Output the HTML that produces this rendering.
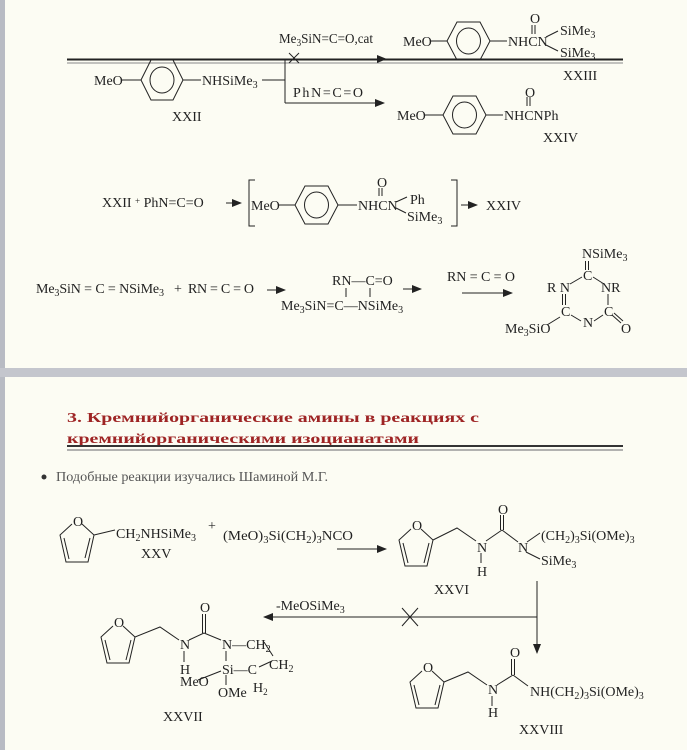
<!DOCTYPE html>
<html><head><meta charset="utf-8"><style>
html,body{margin:0;padding:0;width:687px;height:750px;overflow:hidden;background:#fcfcf3}
svg{display:block}
text{font-family:"Liberation Serif",serif;font-size:14px;fill:#222}
</style></head><body>
<svg width="687" height="750" viewBox="0 0 687 750" xmlns="http://www.w3.org/2000/svg">
<defs>
<marker id="ah" markerWidth="10" markerHeight="8" refX="9" refY="4" orient="auto" markerUnits="userSpaceOnUse">
<path d="M0,0 L10,4 L0,8 Z" fill="#222"/></marker>
</defs>
<rect x="0" y="0" width="687" height="750" fill="#fcfcf3"/>
<rect x="0" y="0" width="5" height="750" fill="#b8bbc3"/>
<rect x="0" y="368" width="687" height="9" fill="#c4c6cd"/>

<g stroke="#222" stroke-width="1" fill="none">
<line x1="67" y1="59.5" x2="623" y2="59.5" stroke-width="2"/>
<line x1="67" y1="63" x2="623" y2="63" stroke="#888"/>

<polygon points="141,80 151,60 173,60 183,80 173,100 151,100"/>
<ellipse cx="162" cy="80" rx="12" ry="13"/>
<line x1="121" y1="80" x2="141" y2="80"/><line x1="183" y1="80" x2="201" y2="80"/>
<line x1="262" y1="80" x2="285" y2="80"/>
<line x1="285" y1="59" x2="285" y2="103"/>
<line x1="285" y1="59" x2="386" y2="59" marker-end="url(#ah)"/>
<line x1="285" y1="103" x2="384" y2="103" marker-end="url(#ah)"/>
<line x1="289" y1="53" x2="299" y2="63"/><line x1="299" y1="53" x2="289" y2="63"/>

<polygon points="447,41 457,22 480,22 490,41 480,60 457,60"/>
<ellipse cx="468.5" cy="41" rx="12" ry="13"/>
<line x1="430" y1="41" x2="447" y2="41"/><line x1="490" y1="41" x2="507" y2="41"/>
<line x1="532" y1="25" x2="532" y2="34"/><line x1="535" y1="25" x2="535" y2="34"/>
<line x1="546" y1="37" x2="558" y2="31"/><line x1="546" y1="45" x2="558" y2="51"/>

<polygon points="443,115 453,96 476,96 486,115 476,134 453,134"/>
<ellipse cx="464.5" cy="115" rx="12" ry="13"/>
<line x1="425" y1="115" x2="443" y2="115"/><line x1="486" y1="115" x2="503" y2="115"/>
<line x1="527" y1="97" x2="527" y2="106"/><line x1="530" y1="97" x2="530" y2="106"/>

<line x1="226" y1="203" x2="241" y2="203" marker-end="url(#ah)"/>
<polyline points="255,180 249,180 249,226 255,226"/>
<polyline points="451,180 457,180 457,226 451,226"/>
<polygon points="295,205 305,186 328,186 338,205 328,224 305,224"/>
<ellipse cx="316.5" cy="205" rx="12" ry="13"/>
<line x1="278" y1="205" x2="295" y2="205"/><line x1="338" y1="205" x2="357" y2="205"/>
<line x1="379" y1="188" x2="379" y2="196"/><line x1="382" y1="188" x2="382" y2="196"/>
<line x1="396" y1="202" x2="407" y2="197"/><line x1="396" y1="208" x2="406" y2="213"/>
<line x1="461" y1="205" x2="477" y2="205" marker-end="url(#ah)"/>

<line x1="267" y1="290" x2="285" y2="290" marker-end="url(#ah)"/>
<line x1="346" y1="288" x2="346" y2="297"/><line x1="370" y1="288" x2="370" y2="297"/>
<line x1="403" y1="289" x2="421" y2="289" marker-end="url(#ah)"/>
<line x1="462" y1="293" x2="512" y2="293" marker-end="url(#ah)"/>
<line x1="585.5" y1="261" x2="585.5" y2="270"/><line x1="588.5" y1="261" x2="588.5" y2="270"/>
<line x1="582" y1="277" x2="570" y2="284"/><line x1="593" y1="277" x2="604" y2="284"/>
<line x1="562.5" y1="294" x2="562.5" y2="305"/><line x1="565.5" y1="294" x2="565.5" y2="305"/>
<line x1="608" y1="294" x2="608" y2="305"/>
<line x1="571" y1="315" x2="581" y2="321"/><line x1="594" y1="321" x2="603" y2="315"/>
<line x1="612" y1="315" x2="621" y2="323"/><line x1="614" y1="313" x2="623" y2="321"/>
<line x1="560" y1="317" x2="547" y2="325"/>
</g>

<text x="94" y="85">MeO</text>
<text x="202" y="85">NHSiMe<tspan dy="3" font-size="10">3</tspan></text>
<text x="172" y="121">XXII</text>
<text x="279" y="43" textLength="94" lengthAdjust="spacingAndGlyphs">Me<tspan dy="3" font-size="10">3</tspan><tspan dy="-3">SiN=C=O,cat</tspan></text>
<text x="293" y="97" textLength="70" lengthAdjust="spacing">PhN=C=O</text>
<text x="403" y="46">MeO</text>
<text x="508" y="46">NHCN</text>
<text x="530" y="23">O</text>
<text x="560" y="35">SiMe<tspan dy="3" font-size="10">3</tspan></text>
<text x="560" y="57">SiMe<tspan dy="3" font-size="10">3</tspan></text>
<text x="563" y="80">XXIII</text>
<text x="397" y="120">MeO</text>
<text x="504" y="120">NHCNPh</text>
<text x="525" y="97">O</text>
<text x="543" y="142">XXIV</text>

<text x="102" y="207">XXII <tspan font-size="9" dy="-3">+</tspan><tspan dy="3"> PhN=C=O</tspan></text>
<text x="251" y="210">MeO</text>
<text x="358" y="210">NHCN</text>
<text x="377" y="187">O</text>
<text x="410" y="204">Ph</text>
<text x="407" y="221">SiMe<tspan dy="3" font-size="10">3</tspan></text>
<text x="486" y="210">XXIV</text>

<text x="36" y="293" textLength="128" lengthAdjust="spacing">Me<tspan dy="3" font-size="10">3</tspan><tspan dy="-3">SiN = C = NSiMe</tspan><tspan dy="3" font-size="10">3</tspan></text>
<text x="174" y="293" font-size="9">+</text>
<text x="188" y="293" textLength="66" lengthAdjust="spacing">RN = C = O</text>
<text x="332" y="285">RN—C=O</text>
<text x="281" y="310">Me<tspan dy="3" font-size="10">3</tspan><tspan dy="-3">SiN=C—NSiMe</tspan><tspan dy="3" font-size="10">3</tspan></text>
<text x="447" y="281" textLength="68" lengthAdjust="spacing">RN = C = O</text>
<text x="582" y="258">NSiMe<tspan dy="3" font-size="10">3</tspan></text>
<text x="583" y="280">C</text>
<text x="547" y="292">R N</text>
<text x="601" y="292">NR</text>
<text x="561" y="316">C</text>
<text x="604" y="316">C</text>
<text x="583" y="327">N</text>
<text x="505" y="333">Me<tspan dy="3" font-size="10">3</tspan><tspan dy="-3">SiO</tspan></text>
<text x="621" y="333">O</text>

<text x="67" y="422" font-size="22" font-weight="bold" style="fill:#9e2424" textLength="412" lengthAdjust="spacingAndGlyphs">3. Кремнийорганические амины в реакциях с</text>
<text x="67" y="443" font-size="22" font-weight="bold" style="fill:#9e2424" textLength="352" lengthAdjust="spacingAndGlyphs">кремнийорганическими изоцианатами</text>
<line x1="67" y1="446" x2="623" y2="446" stroke="#333" stroke-width="2"/>
<line x1="67" y1="450" x2="623" y2="450" stroke="#999" stroke-width="1.5"/>
<circle cx="44" cy="477" r="2.5" fill="#333"/>
<text x="56" y="481" style="fill:#555" textLength="272" lengthAdjust="spacingAndGlyphs">Подобные реакции изучались Шаминой М.Г.</text>

<g stroke="#222" stroke-width="1" fill="none">
<polyline points="72,524 60,535 66,562 88,562 94,535 82,524"/>
<line x1="64" y1="538" x2="69" y2="559"/><line x1="90" y1="538" x2="85" y2="558"/>
<line x1="94" y1="535" x2="115" y2="530"/>
<line x1="337" y1="549" x2="386" y2="549" marker-end="url(#ah)"/>
<polyline points="411,529 399,540 405,566 427,566 433,540 421,529"/>
<line x1="403" y1="543" x2="408" y2="563"/><line x1="429" y1="543" x2="424" y2="563"/>
<polyline points="433,540 457,528 476,541"/>
<line x1="486" y1="541" x2="502" y2="530"/>
<line x1="500.5" y1="515" x2="500.5" y2="530"/><line x1="503.5" y1="515" x2="503.5" y2="530"/>
<line x1="502" y1="530" x2="518" y2="542"/>
<line x1="481" y1="553" x2="481" y2="563"/>
<line x1="527" y1="542" x2="540" y2="533"/><line x1="526" y1="552" x2="540" y2="559"/>
<line x1="537" y1="581" x2="537" y2="653" marker-end="url(#ah)"/>
<line x1="537" y1="617" x2="264" y2="617" marker-end="url(#ah)"/>
<line x1="402" y1="608" x2="418" y2="626"/><line x1="418" y1="608" x2="402" y2="626"/>
<polyline points="113,626 101,637 107,663 129,663 135,637 123,626"/>
<line x1="105" y1="640" x2="110" y2="660"/><line x1="131" y1="640" x2="126" y2="660"/>
<polyline points="135,637 160,627 179,640"/>
<line x1="189" y1="640" x2="204" y2="633"/>
<line x1="202.5" y1="614" x2="202.5" y2="633"/><line x1="205.5" y1="614" x2="205.5" y2="633"/>
<line x1="204" y1="633" x2="221" y2="640"/>
<line x1="184" y1="651" x2="184" y2="662"/>
<line x1="226" y1="651" x2="226" y2="661"/>
<line x1="264" y1="642" x2="273" y2="656"/>
<line x1="259" y1="667" x2="272" y2="661"/>
<line x1="198" y1="680" x2="221" y2="671"/>
<line x1="226" y1="675" x2="226" y2="685"/>
<polyline points="422,671 410,682 416,708 438,708 444,682 432,671"/>
<line x1="414" y1="685" x2="419" y2="705"/><line x1="440" y1="685" x2="435" y2="705"/>
<polyline points="444,682 468,672 487,685"/>
<line x1="497" y1="685" x2="513" y2="675"/>
<line x1="511.5" y1="659" x2="511.5" y2="675"/><line x1="514.5" y1="659" x2="514.5" y2="675"/>
<line x1="513" y1="675" x2="528" y2="686"/>
<line x1="492" y1="696" x2="492" y2="706"/>
</g>

<text x="73" y="526">O</text>
<text x="116" y="538">CH<tspan dy="3" font-size="10">2</tspan><tspan dy="-3">NHSiMe</tspan><tspan dy="3" font-size="10">3</tspan></text>
<text x="141" y="558">XXV</text>
<text x="208" y="530" font-size="9">+</text>
<text x="223" y="540" textLength="130" lengthAdjust="spacingAndGlyphs">(MeO)<tspan dy="3" font-size="10">3</tspan><tspan dy="-3">Si(CH</tspan><tspan dy="3" font-size="10">2</tspan><tspan dy="-3">)</tspan><tspan dy="3" font-size="10">3</tspan><tspan dy="-3">NCO</tspan></text>

<text x="412" y="530">O</text>
<text x="477" y="552">N</text>
<text x="477" y="576">H</text>
<text x="498" y="514">O</text>
<text x="518" y="552">N</text>
<text x="541" y="540">(CH<tspan dy="3" font-size="10">2</tspan><tspan dy="-3">)</tspan><tspan dy="3" font-size="10">3</tspan><tspan dy="-3">Si(OMe)</tspan><tspan dy="3" font-size="10">3</tspan></text>
<text x="541" y="565">SiMe<tspan dy="3" font-size="10">3</tspan></text>
<text x="434" y="594">XXVI</text>
<text x="276" y="610">-MeOSiMe<tspan dy="3" font-size="10">3</tspan></text>

<text x="114" y="627">O</text>
<text x="180" y="649">N</text>
<text x="180" y="674">H</text>
<text x="200" y="612">O</text>
<text x="222" y="649">N—CH<tspan dy="3" font-size="10">2</tspan></text>
<text x="269" y="669">CH<tspan dy="3" font-size="10">2</tspan></text>
<text x="222" y="674">Si—C</text>
<text x="253" y="692" font-size="12">H<tspan dy="3" font-size="9">2</tspan></text>
<text x="180" y="686">MeO</text>
<text x="218" y="697">OMe</text>
<text x="163" y="721">XXVII</text>

<text x="423" y="672">O</text>
<text x="488" y="694">N</text>
<text x="488" y="717">H</text>
<text x="510" y="657">O</text>
<text x="530" y="696">NH(CH<tspan dy="3" font-size="10">2</tspan><tspan dy="-3">)</tspan><tspan dy="3" font-size="10">3</tspan><tspan dy="-3">Si(OMe)</tspan><tspan dy="3" font-size="10">3</tspan></text>
<text x="519" y="734">XXVIII</text>
</svg>
</body></html>
